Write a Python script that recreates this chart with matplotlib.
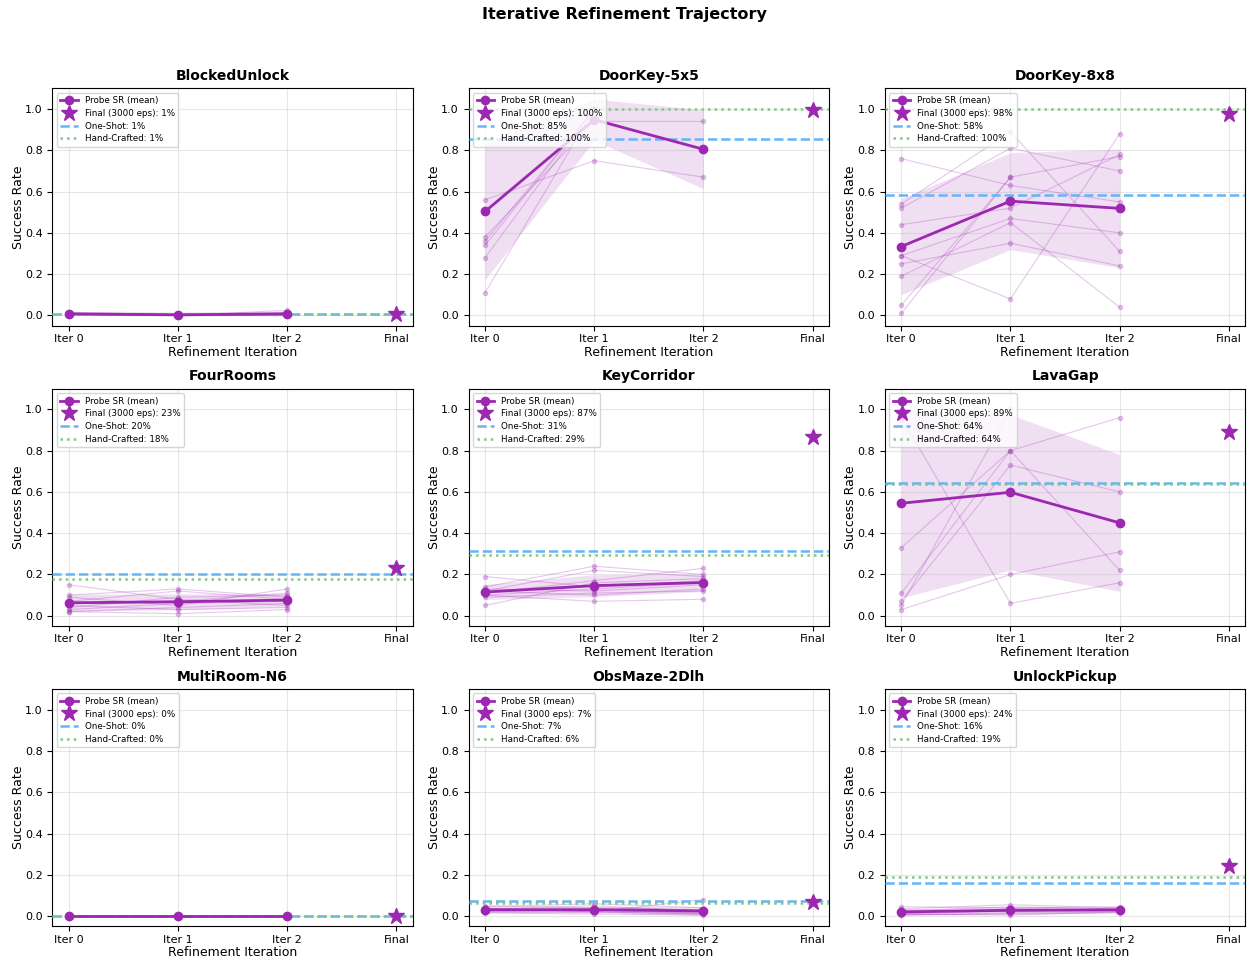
import numpy as np
import matplotlib
matplotlib.use("Agg")
import matplotlib.pyplot as plt
from matplotlib.lines import Line2D

# ---------------- data ----------------
ENVS = ["BlockedUnlock", "DoorKey-5x5", "DoorKey-8x8",
        "FourRooms", "KeyCorridor", "LavaGap",
        "MultiRoom-N6", "ObsMaze-2Dlh", "UnlockPickup"]
ITER_LABELS = ["Iter 0", "Iter 1", "Iter 2", "Final"]

# per-seed probe success-rate trajectories (seeds may stop early)
SEEDS_BLOCKEDUNLOCK = [
    [0.010, 0.000, 0.025], [0.010, 0.005, 0.005], [0.005, 0.000, 0.000],
    [0.015, 0.010, 0.015], [0.000, 0.000, 0.005], [0.010, 0.005, 0.010],
    [0.005, 0.000, 0.000], [0.010, 0.005, 0.010], [0.005, 0.000, 0.005],
    [0.010, 0.005, 0.005]]
SEEDS_DOORKEY5 = [
    [1.00], [1.00], [0.56, 0.75, 0.67], [0.38, 0.94, 0.94],
    [0.36, 1.00], [0.34, 1.00], [0.28, 1.00], [0.11, 1.00]]
SEEDS_DOORKEY8 = [
    [0.76, 0.63, 0.55], [0.54, 0.89, 0.31], [0.52, 0.81, 0.70],
    [0.44, 0.52, 0.78], [0.29, 0.08, 0.88], [0.29, 0.47, 0.40],
    [0.25, 0.35, 0.24], [0.19, 0.45, 0.04], [0.05, 0.67, 0.77],
    [0.01, 0.67]]
SEEDS_FOURROOMS = [
    [0.15, 0.08, 0.05], [0.10, 0.13, 0.09], [0.09, 0.05, 0.13],
    [0.07, 0.12, 0.08], [0.06, 0.07, 0.11], [0.05, 0.03, 0.04],
    [0.04, 0.09, 0.10], [0.03, 0.06, 0.07], [0.02, 0.04, 0.06],
    [0.02, 0.01, 0.03]]
SEEDS_KEYCORRIDOR = [
    [0.19, 0.14, 0.17], [0.14, 0.24, 0.20], [0.13, 0.12, 0.15],
    [0.12, 0.22, 0.19], [0.12, 0.10, 0.13], [0.11, 0.17, 0.23],
    [0.10, 0.13, 0.16], [0.10, 0.07, 0.08], [0.09, 0.11, 0.12],
    [0.05, 0.16, 0.18]]
SEEDS_LAVAGAP = [
    [1.00], [0.98], [0.97], [0.95], [0.96, 0.06, 0.16],
    [0.33, 0.80, 0.96], [0.11, 0.80, 0.22], [0.07, 0.73, 0.60],
    [0.05, 1.00], [0.03, 0.20, 0.31]]
SEEDS_MULTIROOM = [[0.0, 0.0, 0.0] for _ in range(10)]
SEEDS_OBSMAZE = [
    [0.050, 0.040, 0.030], [0.045, 0.060, 0.040], [0.040, 0.020, 0.080],
    [0.035, 0.050, 0.025], [0.030, 0.035, 0.020], [0.030, 0.025, 0.015],
    [0.025, 0.030, 0.015], [0.020, 0.020, 0.010], [0.020, 0.020, 0.010],
    [0.015, 0.010, 0.005]]
SEEDS_UNLOCKPICKUP = [
    [0.045, 0.040, 0.045], [0.035, 0.055, 0.040], [0.030, 0.020, 0.040],
    [0.025, 0.045, 0.035], [0.020, 0.030, 0.030], [0.015, 0.035, 0.030],
    [0.010, 0.025, 0.025], [0.010, 0.005, 0.020], [0.005, 0.015, 0.020],
    [0.005, 0.010, 0.015]]

SEEDS = [SEEDS_BLOCKEDUNLOCK, SEEDS_DOORKEY5, SEEDS_DOORKEY8,
         SEEDS_FOURROOMS, SEEDS_KEYCORRIDOR, SEEDS_LAVAGAP,
         SEEDS_MULTIROOM, SEEDS_OBSMAZE, SEEDS_UNLOCKPICKUP]

FINAL_SR = [0.007, 0.997, 0.975, 0.232, 0.868, 0.888, 0.000, 0.068, 0.245]
ONE_SHOT_SR = [0.006, 0.853, 0.582, 0.200, 0.312, 0.642, 0.000, 0.072, 0.160]
HAND_SR = [0.008, 1.000, 1.000, 0.176, 0.293, 0.638, 0.000, 0.064, 0.190]

# ---------------- style ----------------
PURPLE = "#9C27B0"
BLUE = "#64B5F6"
GREEN = "#81C784"

fig, axes = plt.subplots(3, 3, figsize=(12.49, 9.61), dpi=100)
fig.subplots_adjust(left=0.042, right=0.997, top=0.908, bottom=0.036,
                    wspace=0.155, hspace=0.265)
fig.suptitle("Iterative Refinement Trajectory", fontsize=11.5,
             fontweight="bold", y=0.993)

for ax, name, seeds, fin, one, hand in zip(axes.flat, ENVS, SEEDS,
                                           FINAL_SR, ONE_SHOT_SR, HAND_SR):
    n_iter = max(len(s) for s in seeds)
    for s in seeds:
        ax.plot(range(len(s)), s, color=PURPLE, alpha=0.25, lw=0.8,
                marker="o", ms=3, zorder=2)
    means, stds = [], []
    for i in range(n_iter):
        vals = np.array([s[i] for s in seeds if len(s) > i])
        means.append(vals.mean())
        stds.append(vals.std(ddof=1) if len(vals) > 1 else 0.0)
    means = np.array(means)
    stds = np.array(stds)
    xs = np.arange(n_iter)
    ax.fill_between(xs, means - stds, means + stds, color=PURPLE,
                    alpha=0.15, lw=0, zorder=1)
    ax.plot(xs, means, color=PURPLE, lw=2, marker="o", ms=6, zorder=4)
    ax.plot([3], [fin], marker="*", ms=12, color=PURPLE, ls="none", zorder=5)
    ax.axhline(one, color=BLUE, ls="--", lw=1.8, zorder=3)
    ax.axhline(hand, color=GREEN, ls=":", lw=1.8, zorder=3)

    ax.set_xlim(-0.15, 3.15)
    ax.set_ylim(-0.05, 1.1)
    ax.set_xticks(range(4))
    ax.set_xticklabels(ITER_LABELS, fontsize=8)
    ax.set_yticks([0.0, 0.2, 0.4, 0.6, 0.8, 1.0])
    ax.tick_params(axis="y", labelsize=8)
    ax.tick_params(axis="x", pad=2.5)
    ax.grid(True, alpha=0.3)
    ax.set_title(name, fontsize=10, fontweight="bold")
    ax.set_xlabel("Refinement Iteration", fontsize=9, labelpad=1)
    ax.set_ylabel("Success Rate", fontsize=9, labelpad=0)

    handles = [
        Line2D([], [], color=PURPLE, lw=2, marker="o", ms=6),
        Line2D([], [], color=PURPLE, marker="*", ms=12, ls="none"),
        Line2D([], [], color=BLUE, ls="--", lw=1.8),
        Line2D([], [], color=GREEN, ls=":", lw=1.8),
    ]
    labels = ["Probe SR (mean)",
              f"Final (3000 eps): {fin:.0%}",
              f"One-Shot: {one:.0%}",
              f"Hand-Crafted: {hand:.0%}"]
    ax.legend(handles, labels, loc="upper left", fontsize=6.3,
              framealpha=0.8, handlelength=2.0, borderpad=0.4,
              labelspacing=0.42)

fig.savefig("out.png", dpi=100)
